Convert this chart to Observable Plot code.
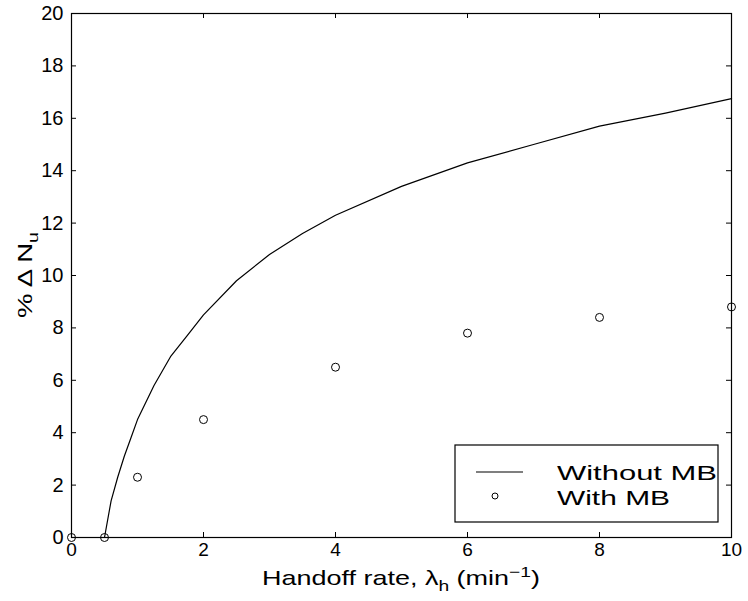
<!DOCTYPE html>
<html><head><meta charset="utf-8">
<script src="https://cdn.jsdelivr.net/npm/d3@7"></script>
<script src="https://cdn.jsdelivr.net/npm/@observablehq/plot@0.6"></script>
<style>body{margin:0;background:#fff} #chart svg{display:block}</style>
</head><body><div id="chart"></div>
<script>
// Data
const withoutX = [0, 0.5, 0.6, 0.7, 0.8, 0.9, 1.0, 1.25, 1.5, 1.75, 2, 2.5, 3, 3.5, 4, 5, 6, 7, 8, 9, 10];
const withoutY = [0, 0, 1.4, 2.3, 3.1, 3.8, 4.5, 5.8, 6.9, 7.7, 8.5, 9.8, 10.8, 11.6, 12.3, 13.4, 14.3, 15.0, 15.7, 16.2, 16.75];
const withX = [0, 0.5, 1, 2, 4, 6, 8, 10];
const withY = [0, 0, 2.3, 4.5, 6.5, 7.8, 8.4, 8.8];
const xTicks = [0, 2, 4, 6, 8, 10];
const yTicks = [0, 2, 4, 6, 8, 10, 12, 14, 16, 18, 20];
const seriesNames = ["Without MB", "With MB"];

const without = withoutX.map((x, i) => ({x, y: withoutY[i]}));
const withMB = withX.map((x, i) => ({x, y: withY[i]}));

const W = 748, H = 601, mL = 71, mR = 17, mT = 13, mB = 64;
const pw = W - mL - mR, ph = H - mT - mB, tl = 5;
const font = "'Liberation Sans', Arial, Helvetica, sans-serif";

const chart = Plot.plot({
  width: W, height: H,
  marginLeft: mL, marginRight: mR, marginTop: mT, marginBottom: mB,
  style: {fontFamily: font, fontSize: "20px", background: "white", color: "black"},
  x: {domain: [0, 10]},
  y: {domain: [0, 20]},
  marks: [
    Plot.axisY(yTicks, {tickSize: 0, tickPadding: 8, fontSize: 20, label: null}),
    Plot.axisX(xTicks, {tickSize: 0, tickPadding: 5, fontSize: 19, label: null}),
    Plot.tickY(yTicks, {y: d => d, insetRight: pw - tl, stroke: "black"}),
    Plot.tickY(yTicks, {y: d => d, insetLeft: pw - tl, stroke: "black"}),
    Plot.tickX(xTicks, {x: d => d, insetTop: ph - tl, stroke: "black"}),
    Plot.tickX(xTicks, {x: d => d, insetBottom: ph - tl, stroke: "black"}),
    Plot.line(without, {x: "x", y: "y", stroke: "black", strokeWidth: 1.2}),
    Plot.dot(withMB, {x: "x", y: "y", r: 4, stroke: "black", strokeWidth: 1, fill: "none"}),
    Plot.frame({stroke: "black", strokeWidth: 1.2})
  ]
});

const svg = d3.select(chart);
const sx = chart.scale("x"), sy = chart.scale("y");
const cx = (sx.apply(0) + sx.apply(10)) / 2;
const cy = (sy.apply(0) + sy.apply(20)) / 2;

// X label
const xl = svg.append("text")
  .attr("x", cx).attr("y", H - 16)
  .attr("text-anchor", "middle")
  .attr("textLength", 278).attr("lengthAdjust", "spacingAndGlyphs")
  .style("font-family", font).style("font-size", "21px").attr("fill", "black");
xl.append("tspan").text("Handoff rate, λ");
xl.append("tspan").attr("dy", 6).style("font-size", "15px").text("h");
xl.append("tspan").attr("dy", -6).text(" (min");
xl.append("tspan").attr("dy", -8).style("font-size", "15px").text("−1");
xl.append("tspan").attr("dy", 8).text(")");

// Y label
const yl = svg.append("text")
  .attr("transform", `translate(32,${cy}) rotate(-90)`)
  .attr("text-anchor", "middle")
  .attr("textLength", 86).attr("lengthAdjust", "spacingAndGlyphs")
  .style("font-family", font).style("font-size", "21px").attr("fill", "black");
yl.append("tspan").text("% Δ N");
yl.append("tspan").attr("dy", 6).style("font-size", "15px").text("u");

// Legend
const right = sx.apply(10), bottom = sy.apply(0);
const lx1 = right - 276, lx2 = right - 13, ly1 = bottom - 92, ly2 = bottom - 15;
const lg = svg.append("g");
lg.append("rect").attr("x", lx1).attr("y", ly1).attr("width", lx2 - lx1).attr("height", ly2 - ly1)
  .attr("fill", "white").attr("stroke", "black").attr("stroke-width", 1.2);
lg.append("line").attr("x1", lx1 + 21).attr("x2", lx1 + 68).attr("y1", ly1 + 27).attr("y2", ly1 + 27)
  .attr("stroke", "black").attr("stroke-width", 1.2);
lg.append("circle").attr("cx", lx1 + 40).attr("cy", ly1 + 51).attr("r", 3)
  .attr("fill", "none").attr("stroke", "black");
const legendWidths = [160, 113];
lg.selectAll("text.lt").data(seriesNames).join("text")
  .attr("class", "lt")
  .attr("x", lx1 + 102).attr("y", (d, i) => ly1 + 35 + i * 25)
  .attr("text-anchor", "start")
  .attr("textLength", (d, i) => legendWidths[i]).attr("lengthAdjust", "spacingAndGlyphs")
  .style("font-family", font).style("font-size", "21px").attr("fill", "black")
  .text(d => d);

document.getElementById("chart").appendChild(chart);
</script>
</body></html>
